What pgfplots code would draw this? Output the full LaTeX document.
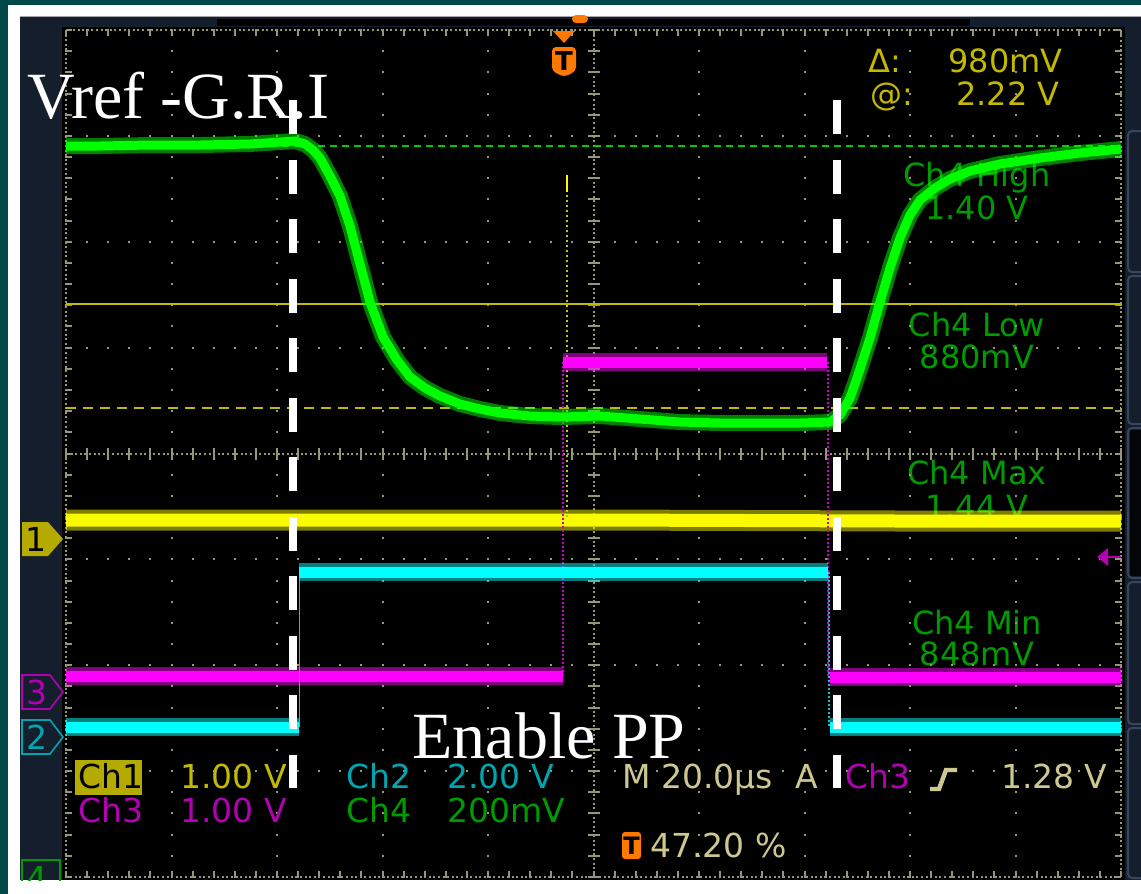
\documentclass[border=0pt]{standalone}
\usepackage{fontspec}
\setmainfont{Liberation Serif}
\newfontfamily\scopefont{DejaVu Sans}
\usepackage{pgfplots}
\pgfplotsset{compat=1.18}
\usepackage{pgfplotstable}

\definecolor{teal0}{RGB}{0,72,72}
\definecolor{navy}{RGB}{20,30,45}
\definecolor{navyb}{RGB}{55,70,95}
\definecolor{gridc}{RGB}{150,150,120}
\definecolor{trY}{RGB}{250,250,0}
\definecolor{trG}{RGB}{0,255,0}
\definecolor{trM}{RGB}{255,0,255}
\definecolor{trC}{RGB}{0,255,255}
\definecolor{txY}{RGB}{195,185,0}
\definecolor{txG}{RGB}{0,155,0}
\definecolor{txM}{RGB}{180,0,180}
\definecolor{txC}{RGB}{0,165,175}
\definecolor{txK}{RGB}{205,200,145}
\definecolor{olive1}{RGB}{180,170,0}
\definecolor{orangeT}{RGB}{255,120,0}

% traces, in screen pixels (x to the right, y downward)
\pgfplotstableread{
x y
66 146
100 146
150 145
200 145
250 144
280 142
295 141
305 144
313 150
320 158
330 176
340 196
350 226
360 264
370 302
383 337
397 360
410 377
425 388
440 396
460 404
480 409
500 413
530 416
560 417
600 416
640 419
680 422
720 423
760 423
800 423
830 422
840 415
850 398
857 378
870 338
880 302
890 268
900 238
910 215
920 200
935 188
950 179
970 171
1000 164
1040 158
1080 153
1121 149
}\chfour
\pgfplotstableread{
x y
66 520
300 520
600 520
900 521
1121 521
}\chone
\pgfplotstableread{
x y
66 676
563 676
nan nan
563 362
827 362
nan nan
830 677
1121 677
}\chthree
\pgfplotstableread{
x y
66 727
299 727
nan nan
299 572
828 572
nan nan
830 727
1121 727
}\chtwo

\tikzset{
  sc/.style={inner sep=0pt, font=\scopefont\fontsize{16pt}{16pt}\selectfont},
  sb/.style={inner sep=0pt, text height=12pt, text depth=0pt, font=\scopefont\fontsize{16.5pt}{17pt}\selectfont},
}

\begin{document}
\begin{tikzpicture}
\path[use as bounding box] (0pt,0pt) rectangle (570.5pt,-447pt);
\begin{scope}[x=0.5pt,y=-0.5pt]
  % frame
  \fill[teal0] (0,0) rectangle (1141,894);
  \fill[white] (8,5) rectangle (1141,894);
  \fill[black] (20,16) rectangle (1141,880);
  \fill[navy] (20,16) rectangle (62,880);
  \fill[navy] (20,16) rectangle (1141,27);
  \fill[black] (217,19) rectangle (970,26);
  \draw[gray!70, line width=0.6pt] (20,16.5) -- (1141,16.5);
  \fill[navy] (1125,27) rectangle (1141,880);
  \foreach \a/\b in {131/272, 276/424, 428/578, 582/724, 728/878}
    \draw[navyb, line width=1pt, rounded corners=2pt] (1128,\a) rectangle (1145,\b);
  \fill[black!85!navy] (1130,430) rectangle (1141,576);
  \fill[orangeT, rounded corners=2pt] (572,15) rectangle (588,23);
  % graticule border and centre lines
  \draw[gridc, line width=1pt, dash pattern=on 1pt off 1.3pt] (66,30) rectangle (1121,877);
  \draw[gridc, line width=1pt, dash pattern=on 1pt off 1.3pt] (66,453.5) -- (1121,453.5);
  \draw[gridc, line width=1pt, dash pattern=on 1pt off 1.3pt] (593.5,30) -- (593.5,877);
  \foreach \i in {0,...,50} {
    \draw[gridc, line width=1pt] ({66+21.1*\i},30) -- ++(0,6);
    \draw[gridc, line width=1pt] ({66+21.1*\i},877) -- ++(0,-6);
    \draw[gridc, line width=1pt] ({66+21.1*\i},447.5) -- ++(0,12);
  }
  \foreach \j in {0,...,40} {
    \draw[gridc, line width=1pt] (66,{30+21.175*\j}) -- ++(6,0);
    \draw[gridc, line width=1pt] (1121,{30+21.175*\j}) -- ++(-6,0);
    \draw[gridc, line width=1pt] (587.5,{30+21.175*\j}) -- ++(12,0);
  }
  % measurement readouts (behind the traces)
  \node[sc, txY, anchor=base west] at (868,72) {Δ:};
  \node[sc, txY, anchor=base east] at (1063,72) {980mV};
  \node[sc, txY, anchor=base west] at (870,105) {@:};
  \node[sc, txY, anchor=base east] at (1060,105) {2.22 V};
  \node[sc, txG, anchor=base] at (977,186) {Ch4 High};
  \node[sc, txG, anchor=base] at (977,219) {1.40 V};
  \node[sc, txG, anchor=base] at (977,336) {Ch4 Low};
  \node[sc, txG, anchor=base] at (977,368) {880mV};
  \node[sc, txG, anchor=base] at (977,484) {Ch4 Max};
  \node[sc, txG, anchor=base] at (977,518) {1.44 V};
  \node[sc, txG, anchor=base] at (977,634) {Ch4 Min};
  \node[sc, txG, anchor=base] at (977,665) {848mV};
\end{scope}

\begin{axis}[
  at={(296.75pt,-226.75pt)}, anchor=center,
  scale only axis, width=527.5pt, height=423.5pt,
  xmin=66, xmax=1121, ymin=30, ymax=877, y dir=reverse,
  axis line style={draw=none}, major tick length=0pt,
  xticklabels={}, yticklabels={},
  xtick={66,171.5,277,382.5,488,593.5,699,804.5,910,1015.5,1121},
  ytick={30,135.875,241.75,347.625,453.5,559.375,665.25,771.125,877},
  grid=major,
  x grid style={gridc, line width=1pt, dash pattern=on 1pt off 9.5875pt, dash phase=0.5pt},
  y grid style={gridc, line width=1pt, dash pattern=on 1pt off 9.55pt, dash phase=0.5pt},
  unbounded coords=jump,
]
  % cursors and reference lines
  \addplot[trG!80!black, line width=0.8pt, dash pattern=on 3.5pt off 2.5pt] coordinates {(66,146) (1121,146)};
  \addplot[txY, line width=0.9pt] coordinates {(66,304) (1121,304)};
  \addplot[txY, line width=0.9pt, dash pattern=on 5pt off 3.5pt] coordinates {(66,408) (1121,408)};
  % Ch1 (yellow)
  \addplot[trY, opacity=0.5, line width=10.5pt] table {\chone};
  \addplot[trY, line width=6.5pt] table {\chone};
  \addplot[trY!80!black, line width=0.6pt, dash pattern=on 1pt off 1.5pt] coordinates {(567,190) (567,520)};
  \addplot[trY, line width=1.2pt] coordinates {(567,175) (567,192)};
  % Ch3 (magenta)
  \addplot[trM!80!black, line width=0.6pt, dash pattern=on 1pt off 1pt] coordinates {(563,362) (563,676)};
  \addplot[trM!80!black, line width=0.6pt, dash pattern=on 1pt off 1pt] coordinates {(828,362) (828,677)};
  \addplot[trM, opacity=0.5, line width=9pt] table {\chthree};
  \addplot[trM, line width=5.5pt] table {\chthree};
  % Ch2 (cyan)
  \addplot[trC!80!black, line width=0.6pt] coordinates {(299.5,572) (299.5,727)};
  \addplot[trC!80!black, line width=0.6pt, dash pattern=on 1pt off 1pt] coordinates {(829,572) (829,727)};
  \addplot[trC, opacity=0.5, line width=9pt] table {\chtwo};
  \addplot[trC, line width=5.5pt] table {\chtwo};
  % Ch4 (green)
  \addplot[trG, opacity=0.5, line width=8pt, line join=round] table {\chfour};
  \addplot[trG, line width=4.5pt, line join=round] table {\chfour};
  % white dashed markers
  \addplot[white, line width=4pt, dash pattern=on 17pt off 12.75pt] coordinates {(293,100) (293,788)};
  \addplot[white, line width=4pt, dash pattern=on 17pt off 12.75pt] coordinates {(837,100) (837,788)};
\end{axis}

\begin{scope}[x=0.5pt,y=-0.5pt]
  % trigger marker at top
  \fill[orangeT] (553,31) -- (575,31) -- (564,43) -- cycle;
  \fill[orangeT, rounded corners=2pt] (552,47) -- (576,47) -- (576,71) -- (564,77) -- (552,71) -- cycle;
  \node[inner sep=0pt, font=\scopefont\bfseries\fontsize{13pt}{13pt}\selectfont, black] at (564,61) {T};
  % channel markers on the left
  \fill[olive1] (22,522) -- (48,522) -- (63,539) -- (48,556) -- (22,556) -- cycle;
  \node[sb, black, anchor=base] at (36,551) {1};
  \draw[txM, line width=0.8pt] (22,675) -- (50,675) -- (63,692) -- (50,709) -- (22,709) -- cycle;
  \node[sb, txM, anchor=base] at (37,704) {3};
  \draw[txC, line width=0.8pt] (22,720) -- (50,720) -- (63,737) -- (50,754) -- (22,754) -- cycle;
  \node[sb, txC, anchor=base] at (37,749) {2};
  \begin{scope}
    \clip (20,855) rectangle (66,880);
    \draw[txG, line width=0.8pt] (22,860) rectangle (60,895);
    \node[sb, txG, anchor=base] at (37,890) {4};
  \end{scope}
  % trigger level arrow on the right
  \fill[txM] (1097,557) -- (1108,548) -- (1108,566) -- cycle;
  \draw[txM, line width=1.2pt] (1105,557) -- (1121,557);
  % bottom status readout
  \fill[olive1] (75,760) rectangle (142,795);
  \node[sb, black, anchor=base west] at (78,788) {Ch1};
  \node[sb, txY, anchor=base west] at (180,788) {1.00 V};
  \node[sb, txC, anchor=base west] at (346,788) {Ch2};
  \node[sb, txC, anchor=base west] at (447,788) {2.00 V};
  \node[sb, txK, anchor=base west] at (622,788) {M 20.0µs};
  \node[sb, txK, anchor=base west] at (795,788) {A};
  \node[sb, txM, anchor=base west] at (845,788) {Ch3};
  \draw[txK, line width=2.2pt] (930,789) -- (939,789) -- (946,770) -- (957,770);
  \node[sb, txK, anchor=base east] at (1108,788) {1.28 V};
  \node[sb, txM, anchor=base west] at (78,822) {Ch3};
  \node[sb, txM, anchor=base west] at (180,822) {1.00 V};
  \node[sb, txG, anchor=base west] at (346,822) {Ch4};
  \node[sb, txG, anchor=base west] at (447,822) {200mV};
  \fill[orangeT, rounded corners=1.5pt] (622,832) rectangle (641,859);
  \node[inner sep=0pt, font=\scopefont\bfseries\fontsize{12pt}{12pt}\selectfont, black] at (631.5,845.5) {T};
  \node[sb, txK, anchor=base west] at (650,857) {47.20 \%};
  % annotations
  \node[inner sep=0pt, anchor=base west, white, font=\fontsize{33pt}{33pt}\selectfont] at (27,118) {Vref -G.R.I};
  \node[inner sep=0pt, text depth=0pt, anchor=base west, white, font=\fontsize{33pt}{33pt}\selectfont] at (412,758) {Enable PP};
\end{scope}
\end{tikzpicture}
\end{document}
